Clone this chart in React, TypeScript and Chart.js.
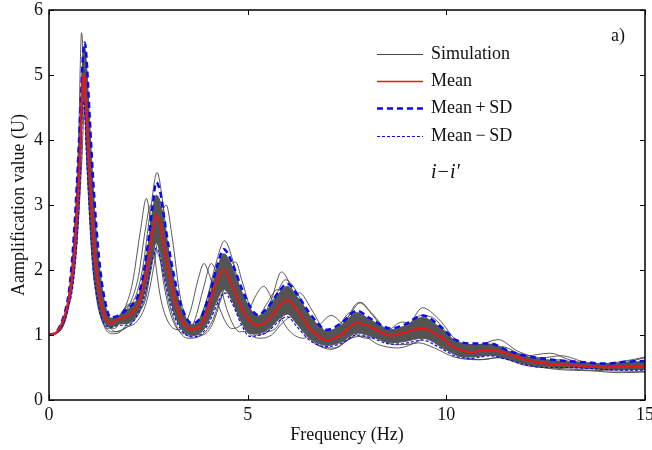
import React, { useEffect, useRef } from "react";
import { Chart, registerables } from "chart.js";

Chart.register(...registerables);

// Frequency grid (Hz) shared by mean / SD / dense band
const freq = [0, 0.2, 0.4, 0.5, 0.6, 0.7, 0.78, 0.86, 0.9, 0.94, 1.02, 1.1, 1.2, 1.3, 1.4, 1.55, 1.75, 2.0, 2.2, 2.35, 2.5, 2.6, 2.7, 2.8, 2.9, 3.0, 3.15, 3.3, 3.6, 3.85, 4.05, 4.25, 4.4, 4.6, 4.85, 5.05, 5.25, 5.5, 5.8, 6.0, 6.25, 6.6, 7.0, 7.35, 7.75, 8.1, 8.6, 8.95, 9.4, 9.85, 10.25, 10.6, 11.1, 11.55, 12.0, 12.5, 13.0, 13.5, 14.0, 14.5, 15];

const meanValues = [1.0, 1.05, 1.3, 1.56, 2.0, 2.85, 3.75, 5.0, 4.95, 4.45, 3.5, 2.65, 1.95, 1.52, 1.3, 1.18, 1.24, 1.3, 1.42, 1.68, 2.15, 2.55, 2.85, 2.7, 2.35, 2.0, 1.58, 1.28, 1.08, 1.18, 1.48, 1.87, 2.0, 1.77, 1.42, 1.22, 1.15, 1.22, 1.45, 1.54, 1.38, 1.08, 0.92, 1.0, 1.19, 1.12, 0.99, 1.04, 1.1, 0.97, 0.79, 0.74, 0.77, 0.71, 0.62, 0.56, 0.54, 0.52, 0.5, 0.51, 0.52];

const meanPlusSD = [1.0, 1.06, 1.35, 1.66, 2.3, 3.3, 4.3, 5.35, 5.5, 5.3, 4.4, 3.5, 2.6, 1.95, 1.55, 1.27, 1.3, 1.42, 1.55, 1.85, 2.45, 2.95, 3.35, 3.2, 2.8, 2.4, 1.9, 1.5, 1.18, 1.3, 1.65, 2.1, 2.32, 2.12, 1.72, 1.45, 1.31, 1.42, 1.68, 1.79, 1.62, 1.3, 1.08, 1.18, 1.37, 1.25, 1.1, 1.16, 1.3, 1.13, 0.92, 0.87, 0.87, 0.76, 0.68, 0.63, 0.6, 0.58, 0.56, 0.59, 0.6];

const meanMinusSD = [1.0, 1.04, 1.24, 1.45, 1.75, 2.4, 3.3, 4.6, 4.4, 3.8, 2.9, 2.1, 1.6, 1.3, 1.17, 1.12, 1.15, 1.15, 1.28, 1.5, 1.85, 2.15, 2.34, 2.2, 1.9, 1.62, 1.3, 1.1, 0.97, 1.02, 1.22, 1.5, 1.65, 1.5, 1.15, 0.98, 0.99, 1.05, 1.22, 1.28, 1.12, 0.9, 0.82, 0.87, 1.0, 0.96, 0.86, 0.87, 0.92, 0.8, 0.67, 0.64, 0.68, 0.62, 0.54, 0.5, 0.5, 0.49, 0.47, 0.46, 0.46];

// Edges of the dense bundle of simulation curves
const bandUpper = [1.0, 1.06, 1.34, 1.64, 2.25, 3.25, 4.3, 5.35, 5.42, 5.2, 4.3, 3.4, 2.5, 1.9, 1.5, 1.26, 1.29, 1.4, 1.53, 1.83, 2.41, 2.89, 3.15, 3.05, 2.72, 2.34, 1.85, 1.47, 1.16, 1.28, 1.62, 2.06, 2.25, 2.06, 1.67, 1.42, 1.29, 1.39, 1.65, 1.75, 1.58, 1.27, 1.06, 1.15, 1.34, 1.23, 1.08, 1.14, 1.27, 1.11, 0.9, 0.85, 0.86, 0.75, 0.67, 0.62, 0.59, 0.57, 0.55, 0.58, 0.59];

const bandLower = [1.0, 1.04, 1.25, 1.46, 1.78, 2.45, 3.35, 4.62, 4.45, 3.85, 2.95, 2.15, 1.62, 1.32, 1.2, 1.13, 1.17, 1.18, 1.3, 1.53, 1.9, 2.21, 2.42, 2.28, 1.97, 1.68, 1.34, 1.13, 0.99, 1.05, 1.26, 1.56, 1.7, 1.54, 1.19, 1.02, 1.02, 1.08, 1.25, 1.32, 1.16, 0.93, 0.84, 0.89, 1.03, 0.98, 0.88, 0.9, 0.95, 0.83, 0.69, 0.66, 0.69, 0.63, 0.55, 0.51, 0.5, 0.49, 0.47, 0.47, 0.47];

// Individual simulation curves lying outside the dense bundle: [frequency, value]
const simA = [[0, 1], [0.3, 1.1], [0.5, 1.6], [0.65, 2.6], [0.74, 3.9], [0.82, 5.65], [0.9, 4.6], [0.98, 3.3], [1.08, 2.2], [1.2, 1.55], [1.35, 1.2], [1.5, 1.1], [1.7, 1.2], [1.9, 1.4], [2.1, 1.8], [2.3, 2.6], [2.45, 3.1], [2.6, 2.5], [2.8, 1.6], [3.0, 1.2], [3.3, 1.08], [3.55, 1.35], [3.75, 1.85], [3.9, 2.1], [4.05, 1.9], [4.3, 1.4], [4.6, 1.1], [4.9, 1.2], [5.2, 1.6], [5.4, 1.75], [5.65, 1.5], [6.0, 1.1], [6.4, 0.95], [6.8, 1.15], [7.1, 1.3], [7.5, 1.1], [8.0, 0.95], [8.5, 1.05], [8.9, 1.2], [9.4, 1.05], [9.9, 0.8], [10.5, 0.7], [11.2, 0.78], [12.0, 0.6], [13, 0.52], [14, 0.48], [15, 0.5]];
const simB = [[0, 1], [0.3, 1.1], [0.5, 1.55], [0.65, 2.4], [0.75, 3.5], [0.84, 4.9], [0.92, 4.5], [1.0, 3.4], [1.1, 2.3], [1.22, 1.6], [1.4, 1.2], [1.6, 1.12], [1.85, 1.3], [2.05, 1.5], [2.25, 1.9], [2.42, 2.6], [2.56, 3.0], [2.7, 2.6], [2.9, 1.75], [3.1, 1.25], [3.4, 1.02], [3.65, 1.2], [3.9, 1.75], [4.08, 2.1], [4.25, 1.9], [4.5, 1.35], [4.8, 1.05], [5.1, 1.1], [5.5, 1.5], [5.75, 1.7], [6.0, 1.55], [6.4, 1.1], [6.8, 0.88], [7.2, 1.05], [7.6, 1.35], [7.9, 1.3], [8.3, 1.05], [8.8, 1.0], [9.2, 1.2], [9.6, 1.15], [10.1, 0.85], [10.6, 0.72], [11.3, 0.8], [12.0, 0.62], [13.0, 0.54], [14.0, 0.49], [15.0, 0.5]];
const simC = [[0, 1], [0.3, 1.08], [0.5, 1.45], [0.7, 2.4], [0.82, 3.6], [0.92, 4.8], [1.0, 4.3], [1.1, 3.1], [1.2, 2.1], [1.35, 1.4], [1.5, 1.15], [1.7, 1.05], [1.95, 1.12], [2.2, 1.2], [2.45, 1.5], [2.65, 2.1], [2.82, 2.8], [2.95, 3.0], [3.1, 2.5], [3.3, 1.6], [3.55, 1.12], [3.85, 1.0], [4.1, 1.15], [4.35, 1.6], [4.55, 2.05], [4.7, 2.12], [4.85, 1.85], [5.1, 1.35], [5.4, 1.05], [5.7, 1.1], [6.0, 1.45], [6.3, 1.65], [6.6, 1.4], [7.0, 1.0], [7.4, 0.9], [7.8, 1.05], [8.1, 1.2], [8.5, 1.05], [9.0, 0.95], [9.5, 1.1], [9.9, 1.05], [10.4, 0.8], [11.0, 0.72], [11.6, 0.74], [12.3, 0.6], [13.2, 0.52], [14.2, 0.5], [15, 0.55]];
const simD = [[0, 1], [0.3, 1.1], [0.5, 1.55], [0.65, 2.3], [0.77, 3.6], [0.87, 5.3], [0.95, 4.9], [1.03, 3.8], [1.12, 2.7], [1.22, 1.9], [1.35, 1.4], [1.5, 1.2], [1.7, 1.25], [1.95, 1.45], [2.15, 1.55], [2.35, 2.0], [2.55, 2.9], [2.72, 3.5], [2.85, 3.1], [3.0, 2.3], [3.2, 1.55], [3.45, 1.18], [3.7, 1.15], [3.95, 1.5], [4.2, 2.1], [4.42, 2.45], [4.6, 2.2], [4.85, 1.6], [5.1, 1.25], [5.35, 1.25], [5.7, 1.6], [5.95, 1.85], [6.2, 1.7], [6.6, 1.2], [7.0, 0.98], [7.4, 1.15], [7.8, 1.5], [8.1, 1.35], [8.6, 1.05], [9.0, 1.1], [9.4, 1.42], [9.8, 1.25], [10.3, 0.9], [10.8, 0.85], [11.3, 0.93], [11.8, 0.75], [12.4, 0.65], [12.9, 0.68], [13.5, 0.58], [14.2, 0.55], [15, 0.65]];
const simE = [[0, 1], [0.3, 1.08], [0.5, 1.5], [0.65, 2.3], [0.76, 3.4], [0.86, 4.5], [0.94, 4.1], [1.02, 3.1], [1.12, 2.1], [1.25, 1.45], [1.4, 1.15], [1.6, 1.05], [1.85, 1.08], [2.1, 1.2], [2.35, 1.45], [2.55, 1.95], [2.68, 2.3], [2.82, 2.1], [3.0, 1.55], [3.2, 1.15], [3.5, 0.95], [3.8, 0.98], [4.1, 1.2], [4.35, 1.6], [4.5, 1.65], [4.7, 1.4], [5.0, 1.05], [5.3, 0.95], [5.6, 1.0], [5.9, 1.2], [6.1, 1.28], [6.4, 1.05], [6.8, 0.83], [7.2, 0.8], [7.6, 0.95], [7.9, 0.98], [8.3, 0.85], [8.8, 0.8], [9.3, 0.88], [9.7, 0.8], [10.2, 0.66], [10.8, 0.62], [11.3, 0.65], [12.0, 0.53], [13, 0.48], [14, 0.45], [15, 0.44]];
const simF = [[0, 1], [0.3, 1.1], [0.5, 1.5], [0.68, 2.5], [0.8, 4.0], [0.88, 4.95], [0.96, 4.4], [1.05, 3.2], [1.15, 2.2], [1.28, 1.5], [1.45, 1.15], [1.65, 1.1], [1.9, 1.35], [2.1, 1.42], [2.3, 1.6], [2.5, 2.2], [2.65, 2.7], [2.78, 2.75], [2.95, 2.2], [3.15, 1.5], [3.4, 1.1], [3.7, 1.05], [3.95, 1.35], [4.2, 1.8], [4.35, 1.95], [4.55, 1.8], [4.8, 1.4], [5.05, 1.15], [5.3, 1.2], [5.6, 1.55], [5.85, 1.97], [6.05, 1.8], [6.4, 1.2], [6.8, 0.9], [7.2, 1.0], [7.55, 1.3], [7.85, 1.5], [8.15, 1.3], [8.6, 1.0], [9.0, 1.05], [9.35, 1.3], [9.7, 1.25], [10.2, 0.9], [10.7, 0.75], [11.2, 0.85], [11.6, 0.72], [12.2, 0.6], [12.8, 0.62], [13.4, 0.56], [14.2, 0.52], [15, 0.58]];
const simG = [[0, 1], [0.3, 1.09], [0.5, 1.52], [0.66, 2.4], [0.78, 3.7], [0.88, 5.1], [0.96, 4.6], [1.04, 3.5], [1.14, 2.4], [1.25, 1.7], [1.4, 1.3], [1.6, 1.18], [1.85, 1.35], [2.05, 1.48], [2.25, 1.55], [2.45, 1.95], [2.62, 2.6], [2.76, 2.9], [2.9, 2.5], [3.05, 1.9], [3.25, 1.35], [3.5, 1.1], [3.75, 1.2], [4.0, 1.6], [4.2, 2.0], [4.38, 2.15], [4.55, 2.0], [4.8, 1.55], [5.1, 1.2], [5.4, 1.2], [5.7, 1.4], [6.05, 1.65], [6.3, 1.55], [6.7, 1.15], [7.1, 0.95], [7.45, 1.05], [7.8, 1.25], [8.2, 1.15], [8.7, 1.0], [9.1, 1.1], [9.5, 1.2], [9.9, 1.05], [10.4, 0.82], [10.9, 0.8], [11.4, 0.82], [12.0, 0.68], [12.6, 0.72], [13.1, 0.62], [13.7, 0.55], [14.3, 0.58], [15, 0.66]];
const simH = [[0, 1], [0.3, 1.1], [0.5, 1.56], [0.66, 2.5], [0.78, 3.8], [0.86, 4.8], [0.94, 4.3], [1.02, 3.3], [1.12, 2.2], [1.24, 1.5], [1.4, 1.12], [1.6, 1.02], [1.8, 1.05], [2.05, 1.25], [2.25, 1.35], [2.45, 1.6], [2.62, 2.3], [2.75, 2.55], [2.9, 2.2], [3.05, 1.65], [3.3, 1.15], [3.55, 0.98], [3.8, 1.1], [4.05, 1.45], [4.3, 1.8], [4.45, 1.85], [4.65, 1.6], [4.9, 1.2], [5.2, 1.0], [5.5, 1.05], [5.8, 1.3], [6.05, 1.38], [6.35, 1.15], [6.75, 0.86], [7.1, 0.78], [7.5, 0.92], [7.85, 1.1], [8.2, 1.0], [8.7, 0.85], [9.1, 0.86], [9.5, 0.95], [9.9, 0.82], [10.4, 0.66], [10.9, 0.62], [11.4, 0.66], [12.0, 0.55], [12.8, 0.47], [13.6, 0.45], [14.4, 0.42], [15, 0.43]];
const simulations = [simA, simB, simC, simD, simE, simF, simG, simH];

const xTicks = [0, 5, 10, 15];
const yTicks = [0, 1, 2, 3, 4, 5, 6];
const legendLabels = ["Simulation", "Mean", "Mean\u2009+\u2009SD", "Mean\u2009\u2212\u2009SD"];
const caseLabel = "i\u2212i\u2032";
const panelLabel = "a)";
const xTitle = "Frequency (Hz)";
const yTitle = "Aamplification value (U)";

const FONT = "'Liberation Serif', 'Times New Roman', serif";
const SIM_COLOR = "rgb(70,70,70)";
const BAND_COLOR = "rgb(84,84,84)";
const MEAN_COLOR = "rgb(240,20,20)";
const SD_COLOR = "rgb(10,10,245)";

const toPoints = (xs: number[], ys: number[]) => xs.map((x, i) => ({ x, y: ys[i] }));

const framePlugin = {
  id: "frameAndLegend",
  afterDatasetsDraw(chart: any) {
    const { ctx, chartArea: a, scales } = chart;
    const xs = scales.x;
    const ys = scales.y;
    ctx.save();
    ctx.strokeStyle = "#000";
    ctx.lineWidth = 1.5;
    ctx.strokeRect(a.left, a.top, a.right - a.left, a.bottom - a.top);
    ctx.lineWidth = 1;
    ctx.beginPath();
    xTicks.forEach((t) => {
      const px = Math.round(xs.getPixelForValue(t)) + 0.5;
      ctx.moveTo(px, a.bottom);
      ctx.lineTo(px, a.bottom - 5);
      ctx.moveTo(px, a.top);
      ctx.lineTo(px, a.top + 5);
    });
    yTicks.forEach((t) => {
      const py = Math.round(ys.getPixelForValue(t)) + 0.5;
      ctx.moveTo(a.left, py);
      ctx.lineTo(a.left + 5, py);
      ctx.moveTo(a.right, py);
      ctx.lineTo(a.right - 5, py);
    });
    ctx.stroke();

    // legend
    const lx0 = a.left + 328;
    const lx1 = a.left + 374;
    const tx = a.left + 382;
    const rows = [a.top + 44, a.top + 71, a.top + 98, a.top + 126];
    const styles = [
      { color: SIM_COLOR, width: 1, dash: [] as number[] },
      { color: MEAN_COLOR, width: 1.6, dash: [] as number[] },
      { color: SD_COLOR, width: 2.5, dash: [6, 4] },
      { color: SD_COLOR, width: 1.2, dash: [3, 2] },
    ];
    ctx.font = `18px ${FONT}`;
    ctx.textBaseline = "middle";
    ctx.textAlign = "left";
    rows.forEach((ry, i) => {
      const s = styles[i];
      ctx.beginPath();
      ctx.strokeStyle = s.color;
      ctx.lineWidth = s.width;
      ctx.setLineDash(s.dash);
      ctx.moveTo(lx0, ry + 0.5);
      ctx.lineTo(lx1, ry + 0.5);
      ctx.stroke();
      ctx.setLineDash([]);
      ctx.fillStyle = "#111";
      ctx.fillText(legendLabels[i], tx, ry);
    });
    ctx.font = `italic 20px ${FONT}`;
    ctx.fillText(caseLabel, tx, a.top + 163);
    ctx.font = `18px ${FONT}`;
    ctx.textAlign = "right";
    ctx.fillText(panelLabel, a.right - 20, a.top + 26);
    ctx.restore();
  },
};

export default function App() {
  const ref = useRef<HTMLCanvasElement | null>(null);

  useEffect(() => {
    document.body.style.margin = "0";
    const canvas = ref.current;
    if (!canvas) return;

    const simDatasets = simulations.map((sim, i) => ({
      label: `Simulation ${i + 1}`,
      data: sim.map(([x, y]) => ({ x, y })),
      borderColor: SIM_COLOR,
      borderWidth: 0.9,
      pointRadius: 0,
      fill: false,
      cubicInterpolationMode: "monotone" as const,
    }));

    const chart = new Chart(canvas, {
      type: "line",
      data: {
        datasets: [
          {
            label: "Mean",
            data: toPoints(freq, meanValues),
            borderColor: MEAN_COLOR,
            borderWidth: 2,
            pointRadius: 0,
            fill: false,
            cubicInterpolationMode: "monotone",
          },
          {
            label: "Mean + SD",
            data: toPoints(freq, meanPlusSD),
            borderColor: SD_COLOR,
            borderWidth: 2.5,
            borderDash: [6, 4],
            pointRadius: 0,
            fill: false,
            cubicInterpolationMode: "monotone",
          },
          {
            label: "Mean - SD",
            data: toPoints(freq, meanMinusSD),
            borderColor: SD_COLOR,
            borderWidth: 1.2,
            borderDash: [3, 2],
            pointRadius: 0,
            fill: false,
            cubicInterpolationMode: "monotone",
          },
          {
            label: "Band upper",
            data: toPoints(freq, bandUpper),
            borderColor: BAND_COLOR,
            backgroundColor: BAND_COLOR,
            borderWidth: 1,
            pointRadius: 0,
            fill: "+1",
            cubicInterpolationMode: "monotone",
          },
          {
            label: "Band lower",
            data: toPoints(freq, bandLower),
            borderColor: BAND_COLOR,
            borderWidth: 1,
            pointRadius: 0,
            fill: false,
            cubicInterpolationMode: "monotone",
          },
          ...simDatasets,
        ],
      },
      options: {
        animation: false,
        responsive: false,
        devicePixelRatio: 1,
        layout: { padding: { top: 10, right: 7, bottom: 0, left: 0 } },
        plugins: {
          legend: { display: false },
          tooltip: { enabled: false },
        },
        scales: {
          x: {
            type: "linear",
            min: 0,
            max: 15,
            grid: { display: false, drawTicks: false },
            border: { display: false },
            ticks: {
              stepSize: 5,
              padding: 4,
              color: "#111",
              font: { family: FONT, size: 18 },
              maxRotation: 0,
            },
            title: {
              display: true,
              text: xTitle,
              color: "#111",
              font: { family: FONT, size: 18 },
              padding: { top: 0, bottom: 4 },
            },
            afterFit: (s: any) => {
              s.height = 50;
              s.paddingLeft = 0;
              s.paddingRight = 0;
            },
          },
          y: {
            type: "linear",
            min: 0,
            max: 6,
            grid: { display: false, drawTicks: false },
            border: { display: false },
            ticks: {
              stepSize: 1,
              padding: 6,
              color: "#111",
              font: { family: FONT, size: 18 },
            },
            title: {
              display: true,
              text: yTitle,
              color: "#111",
              font: { family: FONT, size: 18 },
              padding: { top: 8, bottom: 0 },
            },
            afterFit: (s: any) => {
              s.width = 49;
              s.paddingTop = 0;
              s.paddingBottom = 0;
            },
          },
        },
      },
      plugins: [framePlugin],
    });

    return () => chart.destroy();
  }, []);

  return (
    <div style={{ position: "absolute", left: 0, top: 0, width: 652, height: 450, background: "#fff" }}>
      <canvas ref={ref} width={652} height={450} />
    </div>
  );
}
